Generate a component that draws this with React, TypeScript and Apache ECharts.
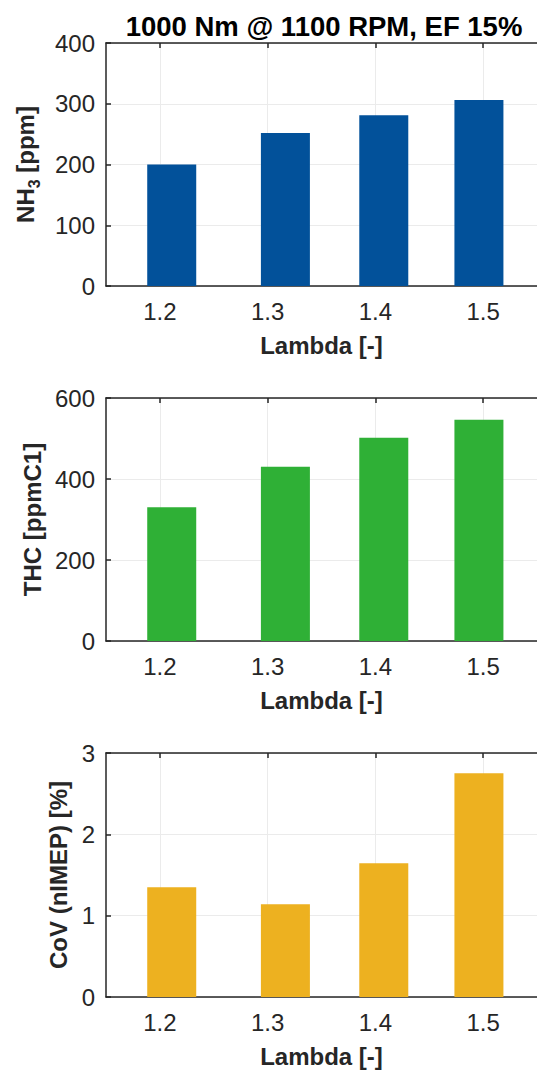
import React, { useEffect, useRef } from "react";
import * as echarts from "echarts";

// Lambda tick values on the x axis
const lambdaTicks = [1.2, 1.3, 1.4, 1.5];
// Lambda positions of the bar centres as drawn in the reference
const barCentres = [1.211, 1.3165, 1.4078, 1.4961];
// Series values
const nh3Ppm = [200, 252, 281, 306];
const thcPpmC1 = [330, 430, 502, 546];
const covNimep = [1.35, 1.14, 1.645, 2.75];

const titleText = "1000 Nm @ 1100 RPM, EF 15%";
const xName = "Lambda [-]";

const FONT = "'Liberation Sans', Arial, Helvetica, sans-serif";
const TXT = "#262626";
const GRIDC = "#ebebeb";

export default function App() {
  const ref = useRef<HTMLDivElement>(null);
  useEffect(() => {
    document.body.style.margin = "0";
    const chart = echarts.init(ref.current!, undefined, { renderer: "svg" });

    const panels = [
      { top: 43, height: 243, max: 400, interval: 100, data: nh3Ppm, color: "#02519A",
        name: "{a|NH}{s|3}{a| [ppm]}", gap: 64 },
      { top: 398, height: 243, max: 600, interval: 200, data: thcPpmC1, color: "#2FB036",
        name: "THC [ppmC1]", gap: 58 },
      { top: 753, height: 244, max: 3, interval: 1, data: covNimep, color: "#EDB120",
        name: "CoV (nIMEP) [%]", gap: 31 },
    ];

    const grid: any[] = [];
    const xAxis: any[] = [];
    const yAxis: any[] = [];
    const series: any[] = [];

    panels.forEach((p, i) => {
      grid.push({ left: 106, width: 438, top: p.top, height: p.height, containLabel: false });
      xAxis.push({
        type: "value",
        gridIndex: i,
        min: 1.15,
        max: 1.55,
        position: "bottom",
        axisLine: { show: true, lineStyle: { color: TXT, width: 1.5 } },
        axisTick: { show: true, inside: true, length: 5, customValues: lambdaTicks, lineStyle: { color: TXT, width: 1.5 } },
        axisLabel: {
          customValues: lambdaTicks,
          margin: 13,
          color: TXT,
          fontSize: 24,
          fontFamily: FONT,
          formatter: (v: number) => v.toFixed(1),
        },
        splitLine: { show: true, lineStyle: { color: GRIDC, width: 1 } },
        name: xName,
        nameLocation: "middle",
        nameGap: 47,
        nameTextStyle: { color: TXT, fontSize: 24, fontWeight: "bold", fontFamily: FONT },
      });
      xAxis.push({
        type: "value",
        gridIndex: i,
        min: 1.15,
        max: 1.55,
        position: "top",
        axisLine: { show: true, onZero: false, lineStyle: { color: TXT, width: 1.5 } },
        axisTick: { show: true, inside: true, length: 5, customValues: lambdaTicks, lineStyle: { color: TXT, width: 1.5 } },
        axisLabel: { show: false },
        splitLine: { show: false },
      });
      yAxis.push({
        type: "value",
        gridIndex: i,
        min: 0,
        max: p.max,
        interval: p.interval,
        axisLine: { show: true, lineStyle: { color: TXT, width: 1.5 } },
        axisTick: { show: true, inside: true, length: 5, lineStyle: { color: TXT, width: 1.5 } },
        axisLabel: { margin: 11, color: TXT, fontSize: 24, fontFamily: FONT },
        splitLine: { show: true, lineStyle: { color: GRIDC, width: 1 } },
        name: p.name,
        nameLocation: "middle",
        nameGap: p.gap,
        nameTextStyle: {
          color: TXT,
          fontSize: 24,
          fontWeight: "bold",
          fontFamily: FONT,
          rich: {
            a: { color: TXT, fontSize: 24, fontWeight: "bold", fontFamily: FONT, lineHeight: 24 },
            s: { color: TXT, fontSize: 16, fontWeight: "bold", fontFamily: FONT, verticalAlign: "top", padding: [18, 0, 0, 0] },
          },
        },
      });
      series.push({
        type: "bar",
        xAxisIndex: i * 2,
        yAxisIndex: i,
        barWidth: 49,
        itemStyle: { color: p.color },
        data: p.data.map((v, k) => [barCentres[k], v]),
      });
    });

    chart.setOption({
      animation: false,
      backgroundColor: "#ffffff",
      grid,
      xAxis,
      yAxis,
      series,
      graphic: [
        {
          type: "text",
          x: 324,
          y: 26,
          style: {
            text: titleText,
            fill: "#000000",
            font: `bold 27.5px ${FONT}`,
            align: "center",
            verticalAlign: "middle",
          },
        },
      ],
    });
    return () => chart.dispose();
  }, []);
  return <div ref={ref} style={{ width: 537, height: 1070 }} />;
}
